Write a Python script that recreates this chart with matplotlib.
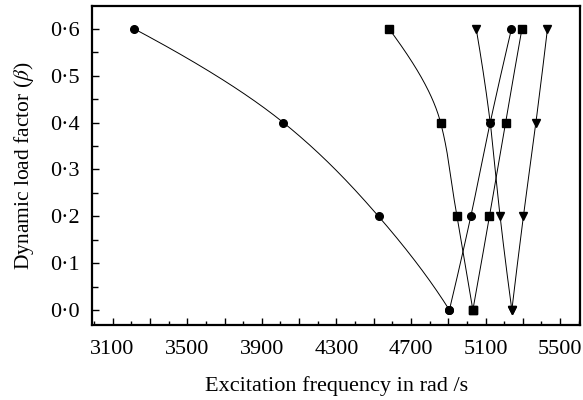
import numpy as np
import matplotlib
matplotlib.use("Agg")
import matplotlib.pyplot as plt
from matplotlib.ticker import FixedLocator, MultipleLocator, FuncFormatter

plt.rcParams['font.family'] = ['Liberation Serif', 'DejaVu Serif']
plt.rcParams['mathtext.fontset'] = 'stix'

# Data: dynamic load factor vs excitation frequency (rad/s)
beta_down = [0.6, 0.4, 0.2, 0.0]
beta_up = [0.0, 0.2, 0.4, 0.6]

circle_down = [3217, 4016, 4526, 4906]
circle_up = [4906, 5021, 5125, 5239]
square_down = [4583, 4859, 4946, 5032]
square_up = [5032, 5121, 5207, 5295]
tri_down = [5050, 5125, 5178, 5241]
tri_up = [5241, 5303, 5370, 5432]

x_major_labels = [3100, 3500, 3900, 4300, 4700, 5100, 5500]
y_labels = [0.0, 0.1, 0.2, 0.3, 0.4, 0.5, 0.6]


def pchip(xk, yk, xn):
    xk = np.asarray(xk, float); yk = np.asarray(yk, float)
    h = np.diff(xk); d = np.diff(yk) / h
    n = len(xk); m = np.zeros(n)
    for k in range(1, n - 1):
        if d[k - 1] * d[k] > 0:
            w1 = 2 * h[k] + h[k - 1]; w2 = h[k] + 2 * h[k - 1]
            m[k] = (w1 + w2) / (w1 / d[k - 1] + w2 / d[k])
    m[0] = ((2 * h[0] + h[1]) * d[0] - h[0] * d[1]) / (h[0] + h[1])
    if np.sign(m[0]) != np.sign(d[0]): m[0] = 0
    m[-1] = ((2 * h[-1] + h[-2]) * d[-1] - h[-1] * d[-2]) / (h[-1] + h[-2])
    if np.sign(m[-1]) != np.sign(d[-1]): m[-1] = 0
    out = np.empty_like(xn)
    for i, x in enumerate(xn):
        k = min(max(np.searchsorted(xk, x) - 1, 0), n - 2)
        t = (x - xk[k]) / h[k]
        h00 = 2*t**3 - 3*t**2 + 1; h10 = t**3 - 2*t**2 + t
        h01 = -2*t**3 + 3*t**2; h11 = t**3 - t**2
        out[i] = h00*yk[k] + h10*h[k]*m[k] + h01*yk[k+1] + h11*h[k]*m[k+1]
    return out


def branch(ax, xs, ys, marker):
    order = np.argsort(ys)
    yk = np.asarray(ys, float)[order]; xk = np.asarray(xs, float)[order]
    yy = np.linspace(yk[0], yk[-1], 200)
    ax.plot(pchip(yk, xk, yy), yy, color='black', lw=0.7, zorder=2)
    ax.plot(xs, ys, linestyle='none', marker=marker, color='black', ms=5.5, zorder=3)


fig = plt.figure(figsize=(5.83, 4.0), dpi=100)
ax = fig.add_axes([0.158, 0.1875, 0.837, 0.7975])

branch(ax, circle_down, beta_down, 'o')
branch(ax, circle_up, beta_up, 'o')
branch(ax, square_down, beta_down, 's')
branch(ax, square_up, beta_up, 's')
branch(ax, tri_down, beta_down, 'v')
branch(ax, tri_up, beta_up, 'v')

ax.set_xlim(2990, 5607)
ax.set_ylim(-0.032, 0.649)

ax.xaxis.set_major_locator(FixedLocator(np.arange(3100, 5501, 200)))
ax.xaxis.set_minor_locator(MultipleLocator(100))
ax.xaxis.set_major_formatter(FuncFormatter(
    lambda v, p: str(int(round(v))) if int(round(v)) in x_major_labels else ''))
ax.yaxis.set_major_locator(FixedLocator(y_labels))
ax.yaxis.set_minor_locator(MultipleLocator(0.05))
ax.yaxis.set_major_formatter(FuncFormatter(lambda v, p: f"{v:.1f}".replace('.', '\u00b7')))

ax.tick_params(which='both', direction='in', labelsize=16, width=1.0)
ax.tick_params(which='major', length=5)
ax.tick_params(which='minor', length=3)
ax.tick_params(axis='y', which='minor', length=4)
ax.tick_params(axis='x', pad=11)
ax.tick_params(axis='y', pad=9)
for s in ax.spines.values():
    s.set_linewidth(1.6)

ax.set_xlabel('Excitation frequency in rad /s', fontsize=16, labelpad=12)
ax.set_ylabel('Dynamic load factor ($\\beta$)', fontsize=15.5, labelpad=10)

fig.savefig('out.png', dpi=100)
